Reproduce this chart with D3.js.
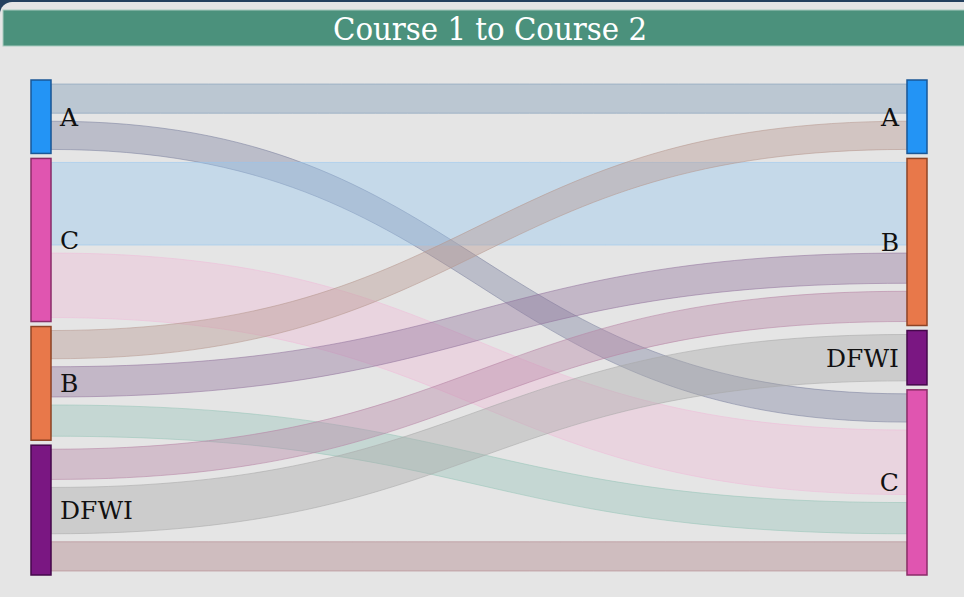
<!DOCTYPE html>
<html><head><meta charset="utf-8">
<script src="https://cdn.jsdelivr.net/npm/d3@7"></script>
<style>html,body{margin:0;padding:0;background:#24405e;overflow:hidden}svg{display:block}</style>
</head><body><svg id="c" width="964" height="597"></svg>
<script>
// ---- data ----
const title = "Course 1 to Course 2";
const leftNodes = ["A", "C", "B", "DFWI"];
const rightNodes = ["A", "B", "DFWI", "C"];
const nodeColors = {A: "#2394f5", B: "#e8784a", C: "#e055b0", DFWI: "#7a1782"};
const nodeStrokes = {A: "#1a5796", B: "#8e4426", C: "#8a2d68", DFWI: "#45084b"};
const linkSources = ["A", "A", "C", "C", "B", "B", "B", "DFWI", "DFWI", "DFWI"];
const linkTargets = ["A", "C", "B", "C", "A", "B", "C", "B", "DFWI", "C"];
const linkValues  = [29, 28, 82, 64, 28, 30, 31, 30, 46, 29];
const linkColors  = ["#7e9ab6", "#7c819f", "#95c7f1", "#efbbd8", "#b6978e",
                     "#92729c", "#97c4b8", "#b684a4", "#a7a7a7", "#ae8188"];

// ---- layout ----
const svg = d3.select("#c");
const xL = 31, nodeW = 20, xR = 907;
const yTop = 80, yBot = 575, nodeGap = 5, linkPad = 8;

svg.append("rect").attr("x", 0).attr("y", 2).attr("width", 1000).attr("height", 640)
  .attr("rx", 12).attr("fill", "#e5e5e5");

svg.append("rect").attr("x", 3).attr("y", 10).attr("width", 980).attr("height", 36)
  .attr("fill", "#4b917c").attr("stroke", "#a9cbbf").attr("stroke-width", 1);
svg.append("text").attr("x", 490).attr("y", 40).attr("text-anchor", "middle")
  .attr("font-family", "'DejaVu Serif Condensed','DejaVu Serif',serif")
  .attr("font-size", 32).attr("fill", "#ffffff")
  .attr("textLength", 314).attr("lengthAdjust", "spacingAndGlyphs")
  .text(title);

const links = linkValues.map((v, i) => ({source: linkSources[i], target: linkTargets[i], value: v, color: linkColors[i]}));
const total = d3.sum(linkValues);
const avail = (yBot - yTop) - nodeGap * (leftNodes.length - 1) - linkPad * links.length;
const vy = d3.scaleLinear().domain([0, total]).range([0, avail]);

function stack(nodes, key, otherKey, otherOrder, y0k, y1k) {
  let cur = yTop;
  return nodes.map(n => {
    const nd = {name: n, y0: cur};
    links.filter(l => l[key] === n)
      .sort((a, b) => otherOrder.indexOf(a[otherKey]) - otherOrder.indexOf(b[otherKey]))
      .forEach(l => {
        cur += linkPad / 2;
        l[y0k] = cur;
        cur += vy(l.value);
        l[y1k] = cur;
        cur += linkPad / 2;
      });
    nd.y1 = cur;
    cur += nodeGap;
    return nd;
  });
}
const lNodes = stack(leftNodes, "source", "target", rightNodes, "sy0", "sy1");
const rNodes = stack(rightNodes, "target", "source", leftNodes, "ty0", "ty1");

const xa = xL + nodeW, xb = xR, xm = (xa + xb) / 2;
function band(l) {
  const p = d3.path();
  p.moveTo(xa, l.sy0);
  p.bezierCurveTo(xm, l.sy0, xm, l.ty0, xb, l.ty0);
  p.lineTo(xb, l.ty1);
  p.bezierCurveTo(xm, l.ty1, xm, l.sy1, xa, l.sy1);
  p.closePath();
  return p.toString();
}
svg.append("g").selectAll("path").data(links).join("path")
  .attr("d", band)
  .attr("fill", d => d.color).attr("fill-opacity", 0.4)
  .attr("stroke", d => d.color).attr("stroke-opacity", 0.55).attr("stroke-width", 1);

function drawNodes(nodes, x) {
  svg.append("g").selectAll("rect").data(nodes).join("rect")
    .attr("x", x).attr("y", d => d.y0).attr("width", nodeW).attr("height", d => d.y1 - d.y0)
    .attr("fill", d => nodeColors[d.name]).attr("stroke", d => nodeStrokes[d.name]).attr("stroke-width", 1.5);
}
drawNodes(lNodes, xL);
drawNodes(rNodes, xR);

const lab = (nodes, x, anchor) => svg.append("g").selectAll("text").data(nodes).join("text")
  .attr("x", x).attr("y", d => (d.y0 + d.y1) / 2).attr("dy", "0.36em")
  .attr("text-anchor", anchor)
  .attr("font-family", "'DejaVu Serif',serif").attr("font-size", 25).attr("fill", "#111")
  .text(d => d.name);
lab(lNodes, xL + nodeW + 9, "start");
lab(rNodes, xR - 8, "end");
</script></body></html>
